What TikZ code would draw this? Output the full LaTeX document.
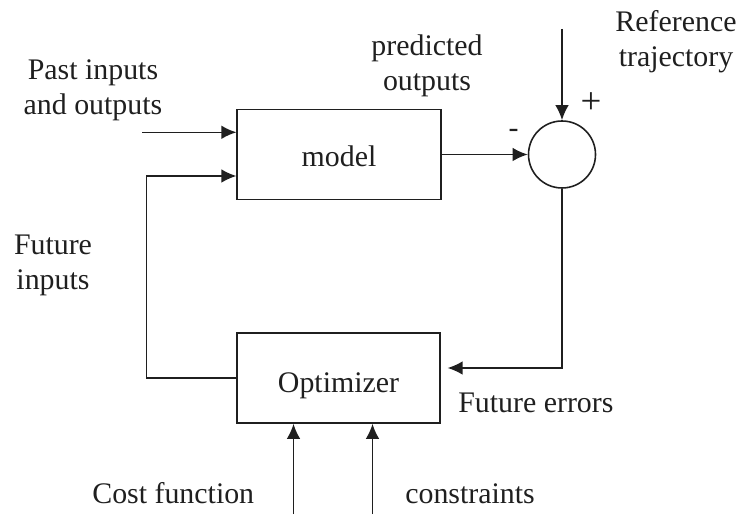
\documentclass[tikz,border=0pt]{standalone}
\usepackage{fontspec}
\setmainfont{Liberation Serif}
\usetikzlibrary{arrows.meta,calc}
\begin{document}
\begin{tikzpicture}
    [
    >={Latex[length=3mm,width=2.7mm]},
    font=\fontsize{17}{20}\selectfont,
    color=black!88,
    block/.style={rectangle,draw,line width=0.9pt,minimum width=40.7mm,minimum height=18mm,inner sep=0pt},
    sum/.style={circle,draw,line width=0.9pt,minimum size=13.4mm,inner sep=0pt},
    txt/.style={align=center,inner sep=0pt},
    signal/.style={->,line width=0.9pt}
    ]
    \useasboundingbox (0,0) rectangle (14.76,10.28);
    \node (model) at (6.78,7.19) [block,text height=0.5cm,text depth=0cm] {model};
    \node (opt) at (6.77,2.72) [block,text height=0.73cm,text depth=0.13cm] {Optimizer};
    \node (sum) at (11.24,7.19) [sum] {};
    \node (past) at (1.86,8.48) [txt] {Past inputs\\and outputs};
    \node (pred) at (8.54,8.97) [txt] {predicted\\outputs};
    \node (ref) at (13.52,9.45) [txt] {Reference\\trajectory};
    \node (fut) at (1.06,4.98) [txt] {Future\\inputs};
    \node (err) at (9.16,2.02) [txt,anchor=base west] {Future errors};
    \node (cost) at (1.84,0.22) [txt,anchor=base west] {Cost function};
    \node (cons) at (8.10,0.22) [txt,anchor=base west] {constraints};
    \node (plus) at (11.82,8.22) [txt,font=\fontsize{21}{24}\selectfont] {+};
    \node (minus) at (10.27,7.61) [txt] {-};
    \coordinate (pastin) at (2.84,7.634);
    \coordinate (refin) at (11.24,9.70);
    \coordinate (loopx) at (2.934,0);
    \coordinate (costin) at (5.87,0);
    \coordinate (consin) at (7.45,0);
    \draw [signal] (pastin) -- (pastin -| model.west);
    \draw [signal] (opt.west) -- (opt.west -| loopx) |- ($(model.west)+(0,-0.43)$);
    \draw [signal] (model.east) -- (sum.west);
    \draw [signal] (refin) -- (sum.north);
    \draw [signal] (sum.south) |- ($(opt.east)+(0.13,0.2)$);
    \draw [signal] (costin) -- (costin |- opt.south);
    \draw [signal] (consin) -- (consin |- opt.south);
  \end{tikzpicture}
\end{document}
